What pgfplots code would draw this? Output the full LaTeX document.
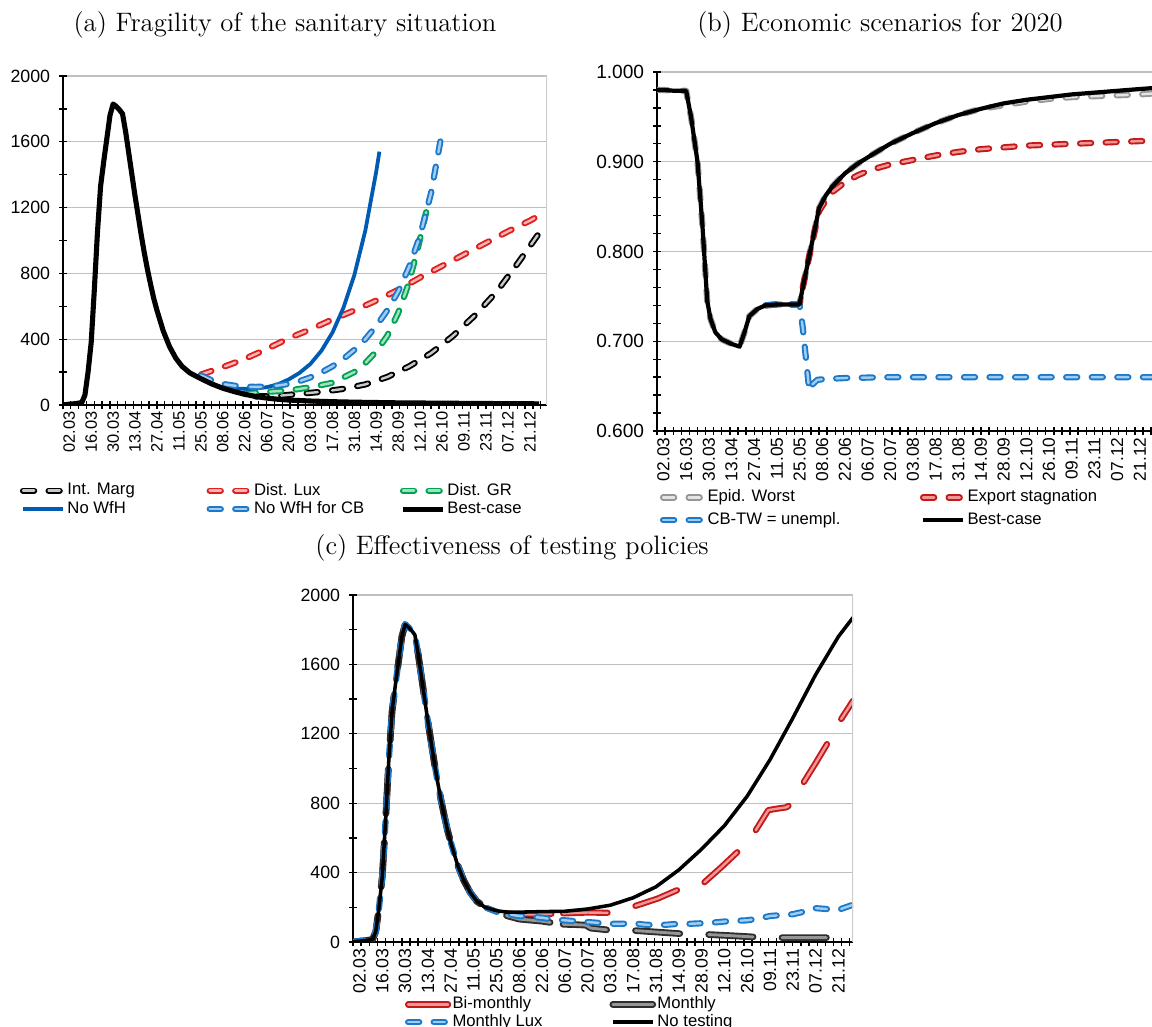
\documentclass[border=0pt]{standalone}
\usepackage{fontspec}
\setsansfont{Liberation Sans}
\usepackage{pgfplots}
\pgfplotsset{compat=1.18}
\definecolor{gridgray}{RGB}{192,192,192}
\definecolor{bordergray}{RGB}{205,205,205}
\definecolor{lred}{RGB}{225,30,30}
\definecolor{lredin}{RGB}{250,180,180}
\definecolor{lgreen}{RGB}{0,160,85}
\definecolor{lgreenin}{RGB}{160,226,186}
\definecolor{lblue}{RGB}{28,120,200}
\definecolor{lbluein}{RGB}{160,205,240}
\definecolor{sblue}{RGB}{0,92,178}
\definecolor{kin}{RGB}{200,200,200}
\definecolor{gout}{RGB}{150,150,150}
\definecolor{gin}{RGB}{228,228,228}
\definecolor{dred}{RGB}{195,25,25}
\definecolor{dredin}{RGB}{240,150,150}
\definecolor{mout}{RGB}{45,45,45}
\definecolor{min}{RGB}{150,150,150}
\pgfplotsset{
  dbl/.style n args={3}{draw=#1, double=#2, double distance=1.1pt, line width=0.85pt, line cap=round, line join=round, dash pattern=#3},
  myaxis/.style={
    scale only axis, anchor=south west,
    axis x line*=bottom, axis y line*=left,
    axis line style={line width=0.8pt, black},
    tick style={black, line width=0.6pt},
    tick align=center,
    major tick length=3.2pt, minor tick length=3.2pt,
    ymajorgrids, major grid style={color=gridgray, line width=0.6pt},
    xtick={-4,1,...,301},
    xticklabels={},
    extra x ticks={0,14,...,294},
    extra x tick labels={02.03,16.03,30.03,13.04,27.04,11.05,25.05,08.06,22.06,06.07,20.07,03.08,17.08,31.08,14.09,28.09,12.10,26.10,09.11,23.11,07.12,21.12},
    extra x tick style={major tick length=0pt},
    xticklabel style={rotate=90, anchor=east, inner xsep=2.8pt, inner ysep=1pt},
    yticklabel style={inner sep=1pt, xshift=-3pt},
    /pgf/number format/assume math mode=true,
    /pgf/number format/1000 sep={},
    legend style={draw=none, fill=none, inner sep=0pt, outer sep=0pt, anchor=north west,
      font=\sffamily\fontsize{7.5}{8}\selectfont,
      nodes={inner xsep=0.6pt, inner ysep=0.3pt}},
    legend cell align=left,
    legend image code/.code={\draw[##1] (0pt,0pt) -- (18pt,0pt);},
  }
}
\begin{document}
\begin{tikzpicture}
\path[use as bounding box] (0,0) rectangle (518.4pt,462.15pt);
\node[font=\large] at (128.25pt,450.9pt) {(a) Fragility of the sanitary situation};
\node[font=\large] at (396pt,450.9pt) {(b) Economic scenarios for 2020};
\node[font=\large] at (230.4pt,215.55pt) {(c) Effectiveness of testing policies};

% ---------- (a)
\begin{axis}[myaxis, at={(28.35pt,279.9pt)}, width=217.8pt, height=148.05pt,
  xmin=-4, xmax=305, ymin=0, ymax=2000,
  ytick={0,400,...,2000}, minor y tick num=1,
  xticklabel style={font=\sffamily\fontsize{7.4}{8}\selectfont},
  yticklabel style={font=\sffamily\fontsize{8}{9}\selectfont},
  legend columns=3,
  legend style={at={(-0.089,-0.235)}, row sep=0.8pt},
]
\addplot[dbl={black}{kin}{on 5pt off 6.5pt}] coordinates {
(119,52) (133,55) (147,68) (161,80) (175,98) (189,125) (203,170) (217,235) (231,315) (245,420) (259,545) (273,690) (287,870) (300,1045)};
\addlegendentry{\makebox[62pt][l]{Int. Marg}}
\addplot[dbl={lred}{lredin}{on 5pt off 6.5pt}] coordinates {
(84,185) (98,230) (112,280) (126,340) (140,405) (154,460) (168,520) (182,575) (196,635) (210,700) (224,775) (238,845) (252,915) (266,985) (280,1055) (294,1120) (300,1152)};
\addlegendentry{\makebox[65pt][l]{Dist. Lux}}
\addplot[dbl={lgreen}{lgreenin}{on 5pt off 6.5pt}] coordinates {
(112,70) (126,80) (140,88) (154,108) (168,135) (182,200) (189,255) (196,325) (203,420) (210,560) (216,720) (222,930) (229,1220)};
\addlegendentry{Dist. GR}
\addplot[sblue, line width=1.7pt] coordinates {
(98,105) (105,100) (112,98) (119,100) (126,108) (133,125) (140,155) (147,195) (154,250) (161,330) (168,440) (175,590) (182,790) (189,1060) (196,1420) (198,1540)};
\addlegendentry{\makebox[62pt][l]{No WfH}}
\addplot[dbl={lblue}{lbluein}{on 5pt off 6.5pt}] coordinates {
(84,180) (91,150) (98,128) (105,118) (112,112) (119,110) (126,112) (133,118) (140,128) (147,145) (154,168) (161,198) (168,235) (175,280) (182,335) (189,400) (196,480) (203,575) (210,690) (217,840) (224,1030) (231,1290) (238,1660)};
\addlegendentry{\makebox[65pt][l]{No WfH for CB}}
\addplot[black, line width=2.3pt, line join=round] coordinates {
(-4,0) (0,5) (4,8) (8,15) (10,60) (12,200) (14,380) (16,700) (18,1050) (20,1330) (22,1480) (24,1620) (26,1760) (28,1830) (30,1815) (32,1795) (34,1770) (36,1660) (38,1530) (40,1400) (42,1270) (44,1150) (46,1030) (48,920) (50,820) (52,730) (54,645) (56,575) (60,450) (64,355) (68,285) (72,235) (77,195) (84,160) (91,128) (98,102) (105,82) (112,65) (119,52) (126,42) (133,35) (140,30) (154,24) (168,20) (182,17) (210,13) (238,11) (266,9) (300,7)};
\addlegendentry{Best-case}
\draw[bordergray, line width=0.6pt] (rel axis cs:1,0) -- (rel axis cs:1,1);
\end{axis}

% ---------- (b)
\begin{axis}[myaxis, at={(295.65pt,268.2pt)}, width=222.75pt, height=161.55pt,
  xmin=-4, xmax=301.6, ymin=0.6, ymax=1.0,
  ytick={0.6,0.7,0.8,0.9,1.0}, minor y tick num=4,
  yticklabel style={font=\sffamily\fontsize{8.6}{9}\selectfont, /pgf/number format/.cd, fixed, fixed zerofill, precision=3},
  xticklabel style={font=\sffamily\fontsize{7.8}{8}\selectfont},
  legend columns=2,
  legend style={at={(0.006,-0.162)}, row sep=2.6pt},
]
\addplot[dbl={gout}{gin}{on 5pt off 6.5pt}] coordinates {
(-4,0.980) (0,0.980) (7,0.979) (14,0.979) (17,0.950) (21,0.900) (24,0.830) (27,0.745) (29,0.725) (32,0.710) (36,0.702) (42,0.697) (47,0.694) (50,0.710) (53,0.728) (58,0.736) (63,0.740) (70,0.741) (84,0.741) (86,0.760) (90,0.795) (94,0.830) (96,0.848) (100,0.862) (104,0.872) (112,0.887) (120,0.898) (128,0.907) (140,0.920) (154,0.932) (168,0.943) (182,0.952) (196,0.959) (210,0.963) (224,0.967) (238,0.970) (252,0.972) (266,0.973) (280,0.974) (294,0.975) (301.6,0.976)};
\addlegendentry{\makebox[95pt][l]{Epid. Worst}}
\addplot[dbl={dred}{dredin}{on 5pt off 6.5pt}] coordinates {
(63,0.740) (70,0.741) (84,0.741) (86,0.760) (90,0.795) (94,0.828) (96,0.845) (100,0.856) (104,0.866) (112,0.877) (120,0.885) (128,0.891) (140,0.897) (154,0.902) (168,0.907) (182,0.911) (196,0.914) (210,0.916) (224,0.918) (238,0.919) (252,0.920) (266,0.921) (280,0.922) (294,0.923) (301.6,0.923)};
\addlegendentry{Export stagnation}
\addplot[dbl={lblue}{lbluein}{on 5pt off 6.5pt}] coordinates {
(63,0.740) (70,0.741) (84,0.741) (86,0.715) (88,0.680) (90,0.645) (92,0.652) (95,0.657) (100,0.658) (112,0.659) (140,0.660) (301.6,0.660)};
\addlegendentry{\makebox[95pt][l]{CB-TW = unempl.}}
\addplot[black, line width=1.9pt, line join=round] coordinates {
(-4,0.980) (0,0.980) (7,0.979) (14,0.979) (17,0.950) (21,0.900) (24,0.830) (27,0.745) (29,0.725) (32,0.710) (36,0.702) (42,0.697) (47,0.694) (50,0.710) (53,0.728) (58,0.736) (63,0.740) (70,0.741) (84,0.741) (86,0.760) (90,0.795) (94,0.830) (96,0.848) (100,0.862) (104,0.872) (112,0.887) (120,0.898) (128,0.907) (140,0.920) (154,0.932) (168,0.943) (182,0.952) (196,0.959) (210,0.965) (224,0.969) (238,0.972) (252,0.975) (266,0.977) (280,0.979) (294,0.981) (301.6,0.982)};
\addlegendentry{Best-case}
\end{axis}

% ---------- (c)
\begin{axis}[myaxis, at={(158.85pt,38.25pt)}, width=225pt, height=156.15pt,
  xmin=-4, xmax=303, ymin=0, ymax=2000,
  ytick={0,400,...,2000}, minor y tick num=1,
  xticklabel style={font=\sffamily\fontsize{8}{9}\selectfont},
  yticklabel style={font=\sffamily\fontsize{8}{9}\selectfont},
  legend columns=2,
  legend style={at={(0.104,-0.156)}, row sep=0.4pt},
]
\addplot[dbl={dred}{dredin}{on 20pt off 13pt}] coordinates {
(125,165) (140,170) (154,168) (162,185) (170,210) (183,250) (197,307) (204,320) (211,338) (222,430) (233,527) (242,625) (251,760) (256,768) (262,776) (266,800) (272,910) (280,1030) (287,1140) (291,1200) (294,1260) (303,1390)};
\addlegendentry{\makebox[70pt][l]{Bi-monthly}}
\addplot[dbl={mout}{min}{on 20pt off 13pt}, double distance=1.3pt] coordinates {
(125,102) (133,100) (139,97) (142,80) (147,75) (154,68) (169,66) (183,57) (197,48) (212,44) (227,37) (242,29) (258,25) (272,25) (287,25) (303,20)};
\addlegendentry{Monthly}
\addplot[dbl={dred}{dredin}{on 20pt off 13pt}, forget plot] coordinates {
(-4,0) (0,5) (4,8) (8,15) (10,60) (12,200) (14,380) (16,700) (18,1050) (20,1330) (22,1480) (24,1620) (26,1760) (28,1830) (30,1815) (32,1795) (34,1770) (36,1660) (38,1530) (40,1400) (42,1270) (44,1150) (46,1030) (48,920) (50,820) (52,730) (54,645) (56,575) (60,450) (64,355) (68,285) (72,235) (77,200) (84,178) (91,165) (98,158) (112,160) (125,165)};
\addplot[dbl={mout}{min}{on 20pt off 13pt}, double distance=1.3pt, forget plot] coordinates {
(-4,0) (0,5) (4,8) (8,15) (10,60) (12,200) (14,380) (16,700) (18,1050) (20,1330) (22,1480) (24,1620) (26,1760) (28,1830) (30,1815) (32,1795) (34,1770) (36,1660) (38,1530) (40,1400) (42,1270) (44,1150) (46,1030) (48,920) (50,820) (52,730) (54,645) (56,575) (60,450) (64,355) (68,285) (72,235) (77,200) (84,175) (91,150) (98,132) (105,126) (112,120) (119,110) (125,102)};
\addplot[dbl={lblue}{lbluein}{on 5pt off 6.5pt}] coordinates {
(-4,0) (0,5) (4,8) (8,15) (10,60) (12,200) (14,380) (16,700) (18,1050) (20,1330) (22,1480) (24,1620) (26,1760) (28,1830) (30,1815) (32,1795) (34,1770) (36,1660) (38,1530) (40,1400) (42,1270) (44,1150) (46,1030) (48,920) (50,820) (52,730) (54,645) (56,575) (60,450) (64,355) (68,285) (72,235) (77,200) (84,175) (91,160) (98,150) (105,145) (112,140) (119,130) (126,125) (133,120) (140,115) (147,110) (154,105) (161,105) (168,108) (175,100) (182,97) (189,100) (196,105) (203,105) (210,108) (217,112) (224,118) (231,122) (238,125) (245,135) (252,150) (259,155) (266,160) (273,175) (280,195) (287,190) (294,185) (303,215)};
\addlegendentry{\makebox[70pt][l]{Monthly Lux}}
\addplot[black, line width=1.6pt, line join=round] coordinates {
(-4,0) (0,5) (4,8) (8,15) (10,60) (12,200) (14,380) (16,700) (18,1050) (20,1330) (22,1480) (24,1620) (26,1760) (28,1830) (30,1815) (32,1795) (34,1770) (36,1660) (38,1530) (40,1400) (42,1270) (44,1150) (46,1030) (48,920) (50,820) (52,730) (54,645) (56,575) (60,450) (64,355) (68,285) (72,235) (77,200) (84,180) (91,172) (98,172) (112,175) (126,177) (140,190) (154,212) (168,255) (182,318) (196,415) (210,535) (224,670) (238,840) (252,1050) (266,1290) (280,1540) (294,1760) (303,1870)};
\addlegendentry{No testing}
\draw[bordergray, line width=0.6pt] (rel axis cs:1,0) -- (rel axis cs:1,1);
\end{axis}
\end{tikzpicture}
\end{document}
